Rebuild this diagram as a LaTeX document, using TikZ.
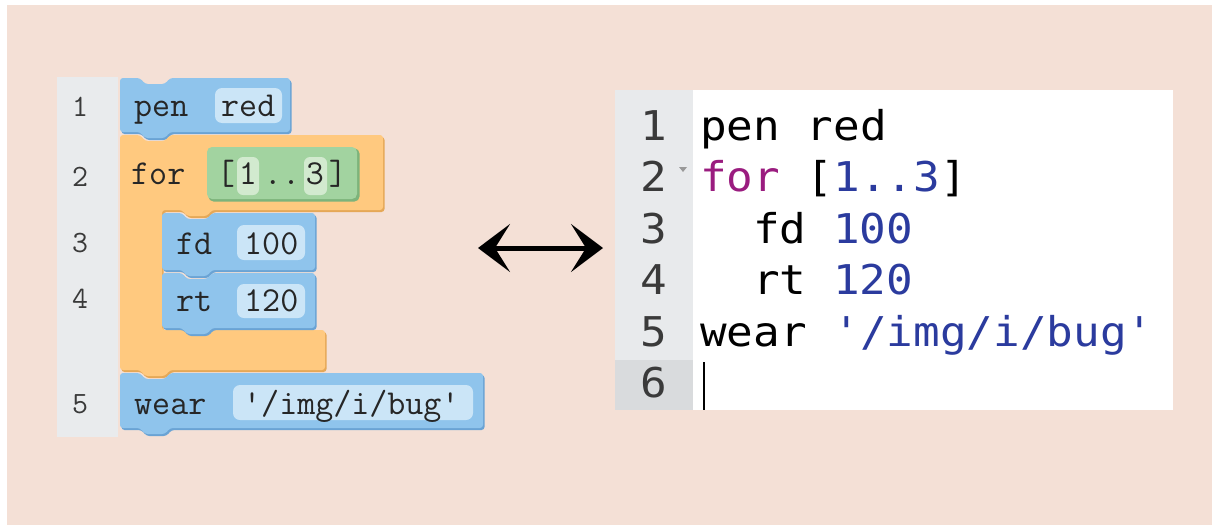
\documentclass[tikz,border=0pt]{standalone}
\usepackage{fontspec}
\usetikzlibrary{arrows.meta}
\newfontfamily\codefont[FakeStretch=1.08,Ligatures=TeXOff]{DejaVu Sans Mono}
\definecolor{peach}{HTML}{F4E0D6}
\definecolor{gutterL}{HTML}{E9EBED}
\definecolor{gutterR}{HTML}{E8EAEC}
\definecolor{gutterHi}{HTML}{D9DBDD}
\definecolor{blk}{HTML}{8FC4EC}
\definecolor{blkedge}{HTML}{6AA3D4}
\definecolor{blkslot}{HTML}{CBE5F7}
\definecolor{org}{HTML}{FFC97F}
\definecolor{orgedge}{HTML}{E5A857}
\definecolor{grn}{HTML}{A2D3A0}
\definecolor{grnedge}{HTML}{7DB37B}
\definecolor{grnslot}{HTML}{D2EACF}
\definecolor{btext}{HTML}{262626}
\definecolor{kw}{HTML}{9A1C7F}
\definecolor{num}{HTML}{2B3B9E}
\definecolor{lnum}{HTML}{3A3A3A}
% statement block outline: left, top, right, bottom
\newcommand\stmtshape[4]{({#1},{#2}) -- ({#1+20},{#2}) -- ({#1+25},{#2+6}) -- ({#1+45},{#2+6}) -- ({#1+50},{#2}) -- ({#3},{#2}) -- ({#3},{#4}) -- ({#1+50},{#4}) -- ({#1+45},{#4+6}) -- ({#1+25},{#4+6}) -- ({#1+20},{#4}) -- ({#1},{#4}) -- cycle}
\newcommand\forshape{(120,135) -- (140,135) -- (145,141) -- (165,141) -- (170,135) -- (383,135) -- (383,210) -- (212,210) -- (207,216) -- (187,216) -- (182,210) -- (162,210) -- (162,330) -- (325,330) -- (325,370) -- (170,370) -- (165,376) -- (145,376) -- (140,370) -- (120,370) -- cycle}
\begin{document}
\begin{tikzpicture}[x=1pt,y=-1pt,
  btxt/.style={anchor=base west,inner sep=0pt,text=btext,font=\ttfamily\fontsize{35}{38}\selectfont},
  gnum/.style={anchor=base,inner sep=0pt,text=lnum,font=\ttfamily\fontsize{31}{34}\selectfont},
  ctxt/.style={anchor=base west,inner sep=0pt,text=black,font=\codefont\fontsize{41}{46}\selectfont},
  cnum/.style={anchor=base east,inner sep=0pt,text=lnum,font=\codefont\fontsize{41}{46}\selectfont},
  slotbox/.style={fill=blkslot,rounded corners=7pt},
  gslot/.style={fill=grnslot,rounded corners=6pt},
  bigarrow/.style={line width=5pt,{Stealth[length=32pt,width=48pt,inset=15pt]}-{Stealth[length=32pt,width=48pt,inset=15pt]}}
]
\useasboundingbox (0,0) rectangle (1212,525);
\fill[white] (0,0) rectangle (1212,525);
\fill[peach] (7,5) rectangle (1212,525);

% ---------------- left: blocks ----------------
\fill[gutterL] (57,77) rectangle (118,437);
\node[gnum] (l1) at (80,116) {1};
\node[gnum] (l2) at (80,186) {2};
\node[gnum] (l3) at (80,252) {3};
\node[gnum] (l4) at (80,308) {4};
\node[gnum] (l5) at (80,413) {5};

% pen red
\fill[blkedge,rounded corners=3pt,shift={(1.5,2)}] \stmtshape{120}{78}{290}{132};
\fill[blk,rounded corners=3pt] \stmtshape{120}{78}{290}{132};
\fill[slotbox] (215,88) rectangle (282,123);
\node[btxt] (pen) at (134,116) {pen};
\node[btxt] (red) at (221,116) {red};

% for block
\fill[orgedge,rounded corners=3pt,shift={(1.5,2)}] \forshape;
\fill[org,rounded corners=3pt] \forshape;
\node[btxt] (for) at (131,184) {for};
\fill[grnedge,rounded corners=5pt] (208.5,148.5) rectangle (359.5,201.5);
\fill[grn,rounded corners=5pt] (207,147) rectangle (357,199);
\fill[gslot] (237,157) rectangle (259,195);
\fill[gslot] (304,157) rectangle (327,195);
\node[btxt,anchor=base] (lb) at (226,184) {[};
\node[btxt,anchor=base] (one) at (248,184) {1};
\node[btxt,anchor=base] (dots) at (282,184) {..};
\node[btxt,anchor=base] (three) at (315,184) {3};
\node[btxt,anchor=base] (rb) at (338,184) {]};

% fd 100
\fill[blkedge,rounded corners=3pt,shift={(1.5,2)}] \stmtshape{162}{213}{315}{270};
\fill[blk,rounded corners=3pt] \stmtshape{162}{213}{315}{270};
\fill[slotbox] (237,225) rectangle (305,260);
\node[btxt] (fd) at (176,254) {fd};
\node[btxt] (hund) at (244,254) {100};

% rt 120
\fill[blkedge,rounded corners=3pt,shift={(1.5,2)}] \stmtshape{162}{273}{315}{328};
\fill[blk,rounded corners=3pt] \stmtshape{162}{273}{315}{328};
\fill[slotbox] (237,284) rectangle (305,318);
\node[btxt] (rt) at (176,311) {rt};
\node[btxt] (ang) at (244,311) {120};

% wear
\fill[blkedge,rounded corners=3pt,shift={(1.5,2)}] \stmtshape{120}{373}{483}{428};
\fill[blk,rounded corners=3pt] \stmtshape{120}{373}{483}{428};
\fill[slotbox] (233,385) rectangle (473,420);
\node[btxt] (wear) at (134,414) {wear};
\node[btxt] (bug) at (243,414) {'/img/i/bug'};

% ---------------- arrow ----------------
\coordinate (arrL) at (478,248);
\coordinate (arrR) at (603,248);
\draw[bigarrow] (arrL) -- (arrR);

% ---------------- right: code editor ----------------
\fill[white] (693,90) rectangle (1173,410);
\fill[gutterR] (615,90) rectangle (693,410);
\fill[gutterHi] (615,360) rectangle (693,410);
\node[cnum] (n1) at (667,140) {1};
\node[cnum] (n2) at (667,191.5) {2};
\node[cnum] (n3) at (667,243) {3};
\node[cnum] (n4) at (667,294.5) {4};
\node[cnum] (n5) at (667,346) {5};
\node[cnum] (n6) at (667,397.5) {6};
\fill[gray!80] (679,167) -- (687,167) -- (683,172) -- cycle;

\node[ctxt] (c1) at (700,140) {pen red};
\node[ctxt] (c2) at (700,191.5) {\textcolor{kw}{for} [\textcolor{num}{1..3}]};
\node[ctxt] (c3) at (753,243) {fd \textcolor{num}{100}};
\node[ctxt] (c4) at (753,294.5) {rt \textcolor{num}{120}};
\node[ctxt] (c5) at (700,346) {wear \textcolor{num}{'/img/i/bug'}};
\coordinate (curT) at (704,362);
\coordinate (curB) at (704,410);
\draw[line width=2.6pt] (curT) -- (curB);
\end{tikzpicture}
\end{document}
